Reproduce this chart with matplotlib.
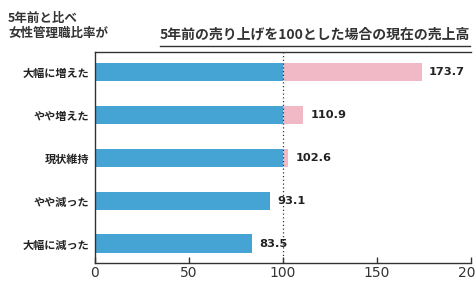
import matplotlib.pyplot as plt

plt.rcParams['font.family'] = ['Noto Sans CJK JP', 'DejaVu Sans']

categories = ['大幅に増えた', 'やや増えた', '現状維持', 'やや減った', '大幅に減った']
values = [173.7, 110.9, 102.6, 93.1, 83.5]
value_labels = ['173.7', '110.9', '102.6', '93.1', '83.5']
x_ticks = [0, 50, 100, 150, 200]

blue = '#45a4d4'
pink = '#f0b9c5'

fig = plt.figure(figsize=(4.77, 2.86), dpi=100)
ax = fig.add_axes([95 / 477, 1 - 263 / 286, (471 - 95) / 477, (263 - 52) / 286])

ypos = list(range(len(categories)))
base = [min(v, 100) for v in values]
extra = [max(v - 100, 0) for v in values]

ax.barh(ypos, base, height=0.43, color=blue, zorder=2)
ax.barh(ypos, extra, left=100, height=0.43, color=pink, zorder=2)

for y, v, lab in zip(ypos, values, value_labels):
    ax.text(v + 4, y, lab, va='center', ha='left', fontsize=8.2, fontweight='bold',
            color='#222222', family='DejaVu Sans')

ax.axvline(100, color='#333333', linestyle=(0, (1, 2)), linewidth=0.9, zorder=3)

ax.set_xlim(0, 200)
ax.set_ylim(4.45, -0.47)
ax.set_yticks(ypos)
ax.set_yticklabels(categories, fontsize=8, fontweight='bold', color='#222222')
ax.set_xticks(x_ticks)
ax.set_xticklabels([str(t) for t in x_ticks], fontsize=10, color='#333333', family='DejaVu Sans')
ax.tick_params(axis='y', length=0, pad=4)
ax.tick_params(axis='x', direction='in', length=4, width=1, pad=2, color='#333333')

for side in ['left', 'bottom', 'top']:
    ax.spines[side].set_color('#333333')
    ax.spines[side].set_linewidth(1)
ax.spines['right'].set_visible(False)

fig.text(8 / 477, 1 - 22 / 286, '5年前と比べ', fontsize=9, fontweight='bold', color='#333333', va='baseline')
fig.text(8 / 477, 1 - 37 / 286, '女性管理職比率が', fontsize=9, fontweight='bold', color='#333333', va='baseline')
fig.text(160 / 477, 1 - 39 / 286, '5年前の売り上げを100とした場合の現在の売上高', fontsize=10,
         fontweight='bold', color='#333333', va='baseline')
fig.add_artist(plt.Line2D([160 / 477, 470 / 477], [1 - 46 / 286, 1 - 46 / 286], color='#333333', linewidth=1))

fig.savefig('out.png', dpi=100, facecolor='white')
